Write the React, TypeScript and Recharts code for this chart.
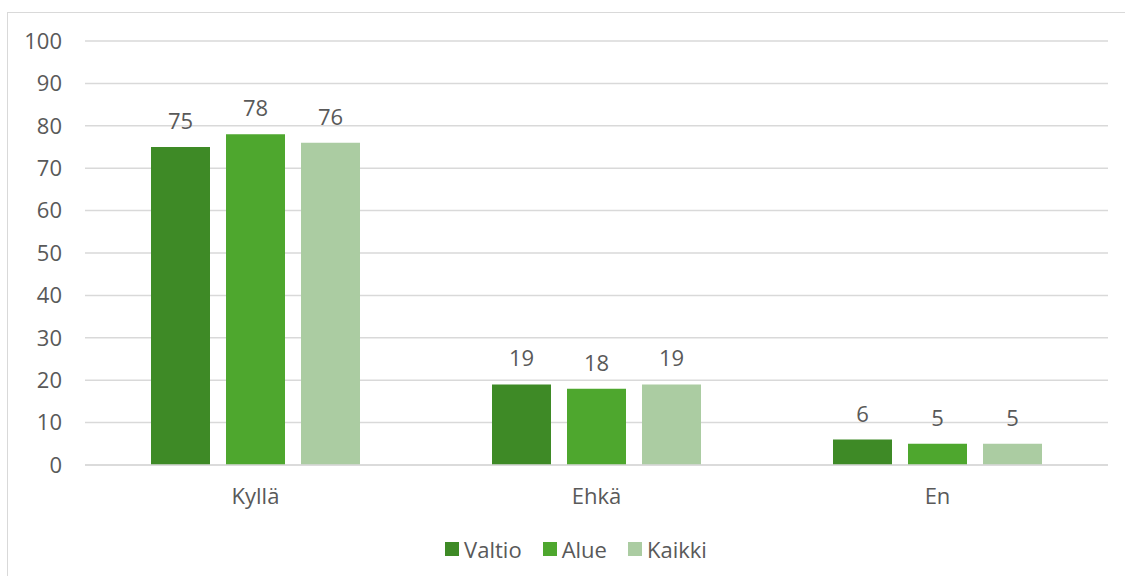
import React from "react";
import { Bar, BarChart, CartesianGrid, LabelList, Legend, XAxis, YAxis } from "recharts";

const categories = ["Kyllä", "Ehkä", "En"];
const valtio = [75, 19, 6];
const alue = [78, 18, 5];
const kaikki = [76, 19, 5];
const yTicks = [0, 10, 20, 30, 40, 50, 60, 70, 80, 90, 100];

const series = [
  { key: "valtio", name: "Valtio", color: "#3e8a26" },
  { key: "alue", name: "Alue", color: "#4ea72e" },
  { key: "kaikki", name: "Kaikki", color: "#abcca2" },
];

const data = categories.map((c, i) => ({
  category: c,
  valtio: valtio[i],
  alue: alue[i],
  kaikki: kaikki[i],
}));

const FONT = "'Open Sans', sans-serif";
const TEXT = "#595959";
const GRID = "#d9d9d9";
const SIZE = 22;

function LegendContent() {
  return (
    <div
      style={{
        display: "flex",
        justifyContent: "center",
        alignItems: "center",
        height: 30,
        fontFamily: FONT,
        fontSize: SIZE,
        color: TEXT,
        paddingLeft: 44,
      }}
    >
      {series.map((s, i) => (
        <div
          key={s.key}
          style={{ display: "flex", alignItems: "center", marginLeft: i === 0 ? 0 : 21 }}
        >
          <span
            style={{ display: "inline-block", width: 14, height: 14, background: s.color, marginRight: 5 }}
          />
          <span>{s.name}</span>
        </div>
      ))}
    </div>
  );
}

export default function App() {
  return (
    <div
      style={{
        position: "absolute",
        left: 0,
        top: 0,
        width: 1125,
        height: 576,
        overflow: "hidden",
        background: "#fff",
      }}
    >
      <div
        style={{
          position: "absolute",
          left: 7,
          top: 12,
          width: 1140,
          height: 600,
          border: `1px solid ${GRID}`,
        }}
      />
      <div style={{ position: "absolute", left: 0, top: 0 }}>
        <BarChart
          width={1125}
          height={576}
          data={data}
          margin={{ top: 41, right: 17, bottom: 12, left: 0 }}
          barSize={59}
          barGap={16}
        >
          <CartesianGrid vertical={false} stroke={GRID} strokeWidth={1.5} />
          <XAxis
            dataKey="category"
            height={69}
            tickLine={false}
            tickSize={0}
            tickMargin={23}
            axisLine={{ stroke: GRID, strokeWidth: 1.5 }}
            tick={{ fill: TEXT, fontSize: SIZE, fontFamily: FONT }}
          />
          <YAxis
            width={85}
            domain={[0, 100]}
            ticks={yTicks}
            interval={0}
            tickLine={false}
            axisLine={false}
            tickSize={0}
            tickMargin={23}
            tick={{ fill: TEXT, fontSize: SIZE, fontFamily: FONT }}
          />
          <Legend verticalAlign="bottom" height={30} content={<LegendContent />} />
          {series.map((s) => (
            <Bar key={s.key} dataKey={s.key} name={s.name} fill={s.color} isAnimationActive={false}>
              <LabelList
                dataKey={s.key}
                position="top"
                offset={18}
                fill={TEXT}
                fontSize={SIZE}
                fontFamily={FONT}
              />
            </Bar>
          ))}
        </BarChart>
      </div>
    </div>
  );
}
